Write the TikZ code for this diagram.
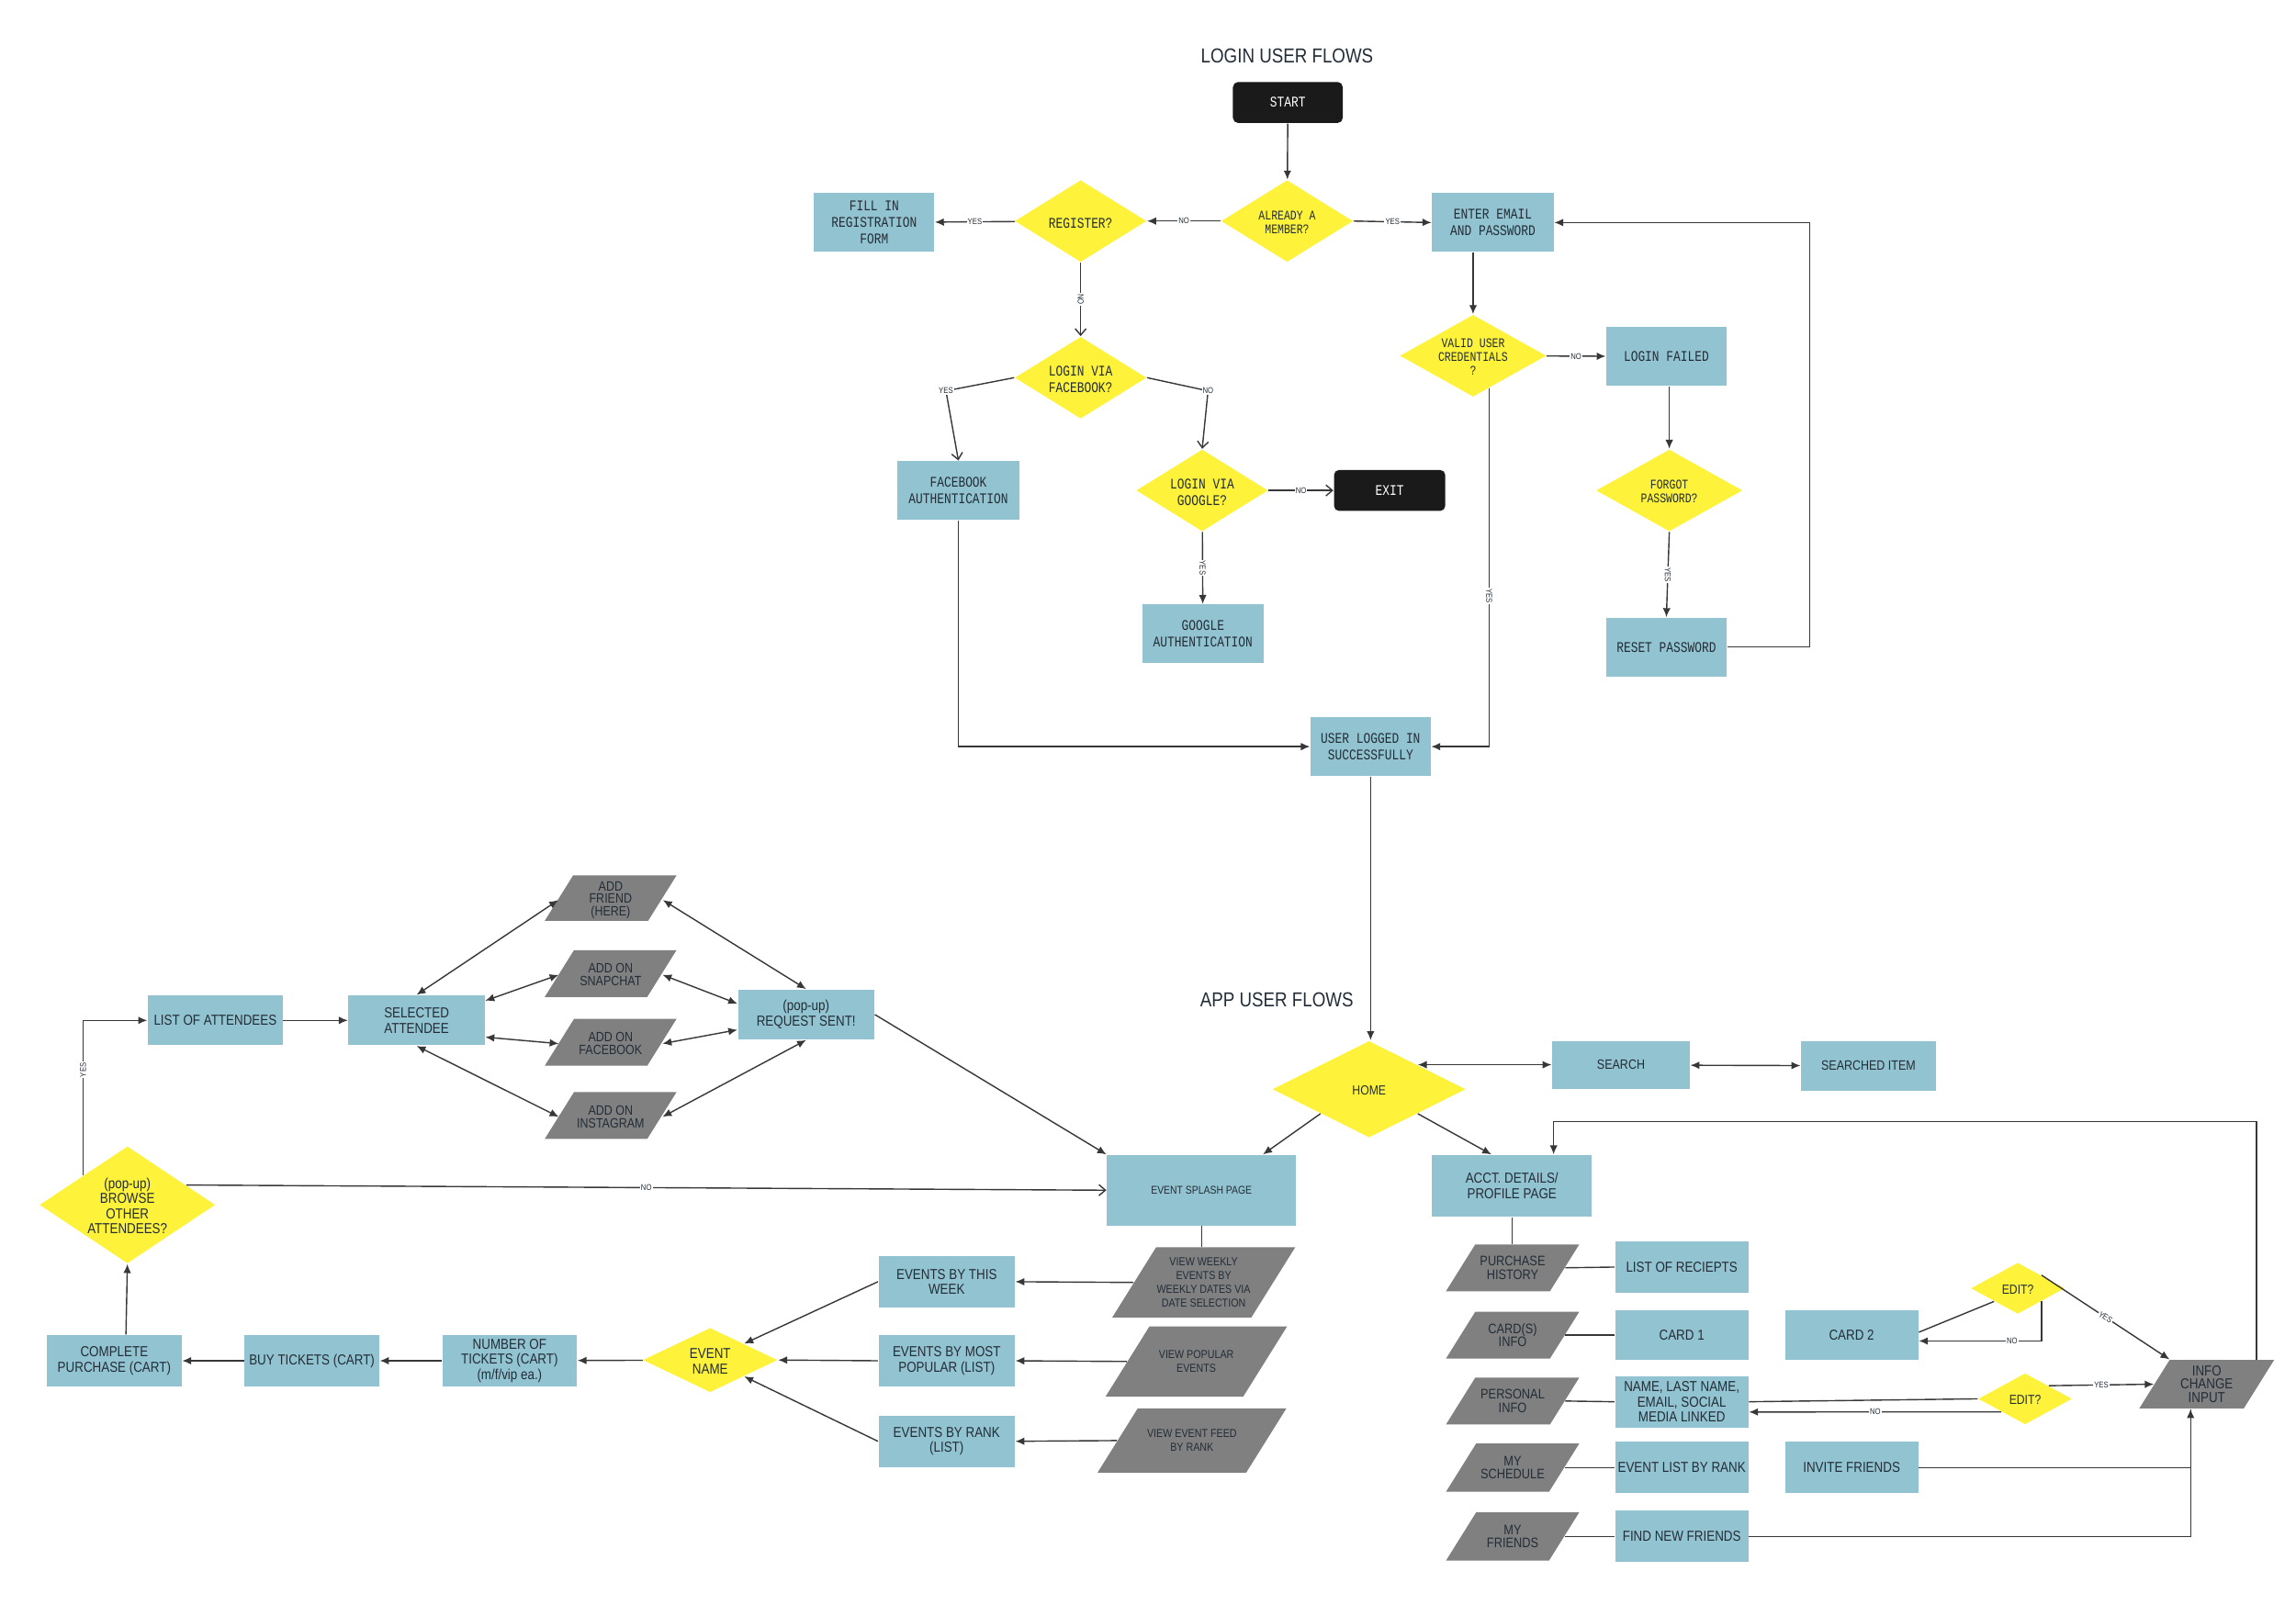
\documentclass[tikz,border=0pt]{standalone}
\usepackage{fontspec}
\usetikzlibrary{shapes.geometric,arrows.meta,calc}
\newfontfamily\monoc[FakeStretch=0.8]{Liberation Mono}
\newfontfamily\sansc[FakeStretch=0.85]{Liberation Sans}
\newcommand\fsz[2]{\fontsize{#1}{#2}\selectfont}
\newcommand\zb[1]{\makebox[0pt]{\raisebox{-0.5em}[0pt][0pt]{\begin{tabular}{@{}c@{}}#1\end{tabular}}}}
% parallelogram: [opts]{name}{x}{y}{w}{h}{text}
\newcommand\mypara[7][]{%
  \pgfmathsetmacro\myparaE{0.625*#6}%
  \pgfmathsetmacro\myparaW{#5-\myparaE}%
  \fill[pgray] (#3-#5/2,#4+#6/2) -- (#3+#5/2-\myparaE,#4+#6/2) -- (#3+#5/2,#4-#6/2) -- (#3-#5/2+\myparaE,#4-#6/2) -- cycle;
  \node[ptext, sz={\myparaW}{#6}, #1] (#2) at (#3,#4) {#7};
}
\definecolor{boxblue}{RGB}{146,195,208}
\definecolor{dyellow}{RGB}{254,242,58}
\definecolor{pgray}{RGB}{128,128,128}
\definecolor{termblack}{RGB}{26,26,26}
\definecolor{txt}{RGB}{35,45,55}
\definecolor{lineg}{RGB}{55,55,55}
\tikzset{
 sz/.style 2 args={minimum width={#1*0.016cm}, minimum height={#2*0.016cm}},
 ttl/.style={font=\sansc\fsz{6.3}{7}, text=txt, inner sep=0pt},
 lbox/.style={rectangle, fill=boxblue, inner sep=0pt, align=center, text=txt, font=\monoc\fsz{4.6}{5.1}},
 abox/.style={rectangle, fill=boxblue, inner sep=0pt, align=center, text=txt, font=\sansc\fsz{4.5}{4.7}},
 term/.style={rectangle, rounded corners=1.6pt, fill=termblack, text=white, inner sep=0pt, font=\monoc\fsz{4.6}{5}},
 ldia/.style={diamond, fill=dyellow, inner sep=0pt, text=txt, font=\monoc\fsz{4.1}{4.3}},
 ldiab/.style={diamond, fill=dyellow, inner sep=0pt, text=txt, font=\monoc\fsz{4.6}{5.1}},
 adia/.style={diamond, fill=dyellow, inner sep=0pt, text=txt, font=\sansc\fsz{4.5}{4.7}},
 ptext/.style={rectangle, inner sep=0pt, align=center, text=txt, font=\sansc\fsz{4.3}{4.2}},
 psmall/.style={font=\sansc\fsz{3.6}{4.3}},
 conn/.style={draw=lineg, line width=0.4pt},
 fa/.style={conn, -{Latex[length=2.8pt,width=2.4pt]}},
 fa2/.style={conn, {Latex[length=2.8pt,width=2.4pt]}-{Latex[length=2.8pt,width=2.4pt]}},
 oa/.style={conn, -{Straight Barb[length=2pt,width=3.4pt]}},
 lbl/.style={font=\sansc\fsz{2.6}{3}, fill=white, inner sep=0.3pt, text=txt},
}
\begin{document}
\begin{tikzpicture}[x=0.016cm, y=-0.016cm]
\useasboundingbox[fill=white] (0,0) rectangle (1568,1096);

% ---------------- LOGIN ----------------
\node[ttl] (t1) at (879,38) {LOGIN USER FLOWS};
\node[term, sz={75}{28}] (start) at (879.5,70) {START};
\node[ldia, sz={90}{56}] (member) at (879,151) {\zb{ALREADY A\\MEMBER?}};
\node[ldiab, sz={90}{56}] (reg) at (738,151) {\zb{REGISTER?}};
\node[lbox, sz={82}{40}] (fillin) at (597,152) {FILL IN\\REGISTRATION\\FORM};
\node[lbox, sz={83}{40}] (enter) at (1019.5,152) {ENTER EMAIL\\AND PASSWORD};
\node[ldia, sz={100}{56}] (valid) at (1006,243) {\zb{VALID USER\\CREDENTIALS\\?}};
\node[lbox, sz={82}{40}] (failed) at (1138,243.5) {LOGIN FAILED};
\node[ldia, sz={100}{56}] (forgot) at (1140,335) {\zb{FORGOT\\PASSWORD?}};
\node[lbox, sz={82}{40}] (reset) at (1138,442) {RESET PASSWORD};
\node[ldiab, sz={90}{56}] (fb) at (738,258) {\zb{LOGIN VIA\\FACEBOOK?}};
\node[lbox, sz={83}{40}] (fbauth) at (654.5,335) {FACEBOOK\\AUTHENTICATION};
\node[ldiab, sz={90}{56}] (google) at (821,335) {\zb{LOGIN VIA\\GOOGLE?}};
\node[term, sz={76}{28}] (exit) at (949,335) {EXIT};
\node[lbox, sz={83}{40}] (gauth) at (821.5,433) {GOOGLE\\AUTHENTICATION};
\node[lbox, sz={82}{40}] (logged) at (936,510) {USER LOGGED IN\\SUCCESSFULLY};

\coordinate (fbbend) at (646,267);
\coordinate (gbend) at (825,267);
\coordinate (loopR) at (1236,152);
\coordinate (vstart) at (1017,265);

\draw[fa] (start) -- (member);
\draw[fa] (member) -- node[lbl]{NO} (reg);
\draw[fa] (member.east) -- node[lbl]{YES} (enter.west);
\draw[fa] (reg) -- node[lbl]{YES} (fillin);
\draw[oa] (reg) -- node[lbl, rotate=-90]{NO} (fb);
\draw[oa] (fb.west) -- (fbbend) node[lbl]{YES} -- (fbauth.north);
\draw[oa] (fb.east) -- (gbend) node[lbl]{NO} -- (google.north);
\draw[oa] (google) -- node[lbl]{NO} (exit);
\draw[fa] (google) -- node[lbl, rotate=-90]{YES} (gauth);
\draw[fa] (enter.south -| valid.north) -- (valid.north);
\draw[fa] (valid) -- node[lbl]{NO} (failed);
\draw[fa] (failed.south -| forgot.north) -- (forgot.north);
\draw[fa] (forgot.south) -- node[lbl, rotate=-90]{YES} (reset.north);
\draw[fa] (reset.east) -| (loopR) -- (enter.east);
\draw[fa] (vstart) |- node[lbl, rotate=-90, pos=0.29]{YES} (logged.east);
\draw[fa] (fbauth.south) |- (logged.west);

% ---------------- APP ----------------
\node[ttl] (t2) at (872,683) {APP USER FLOWS};
\node[adia, sz={132}{66}, font=\sansc\fsz{4.1}{4.5}] (home) at (935,744) {\zb{HOME}};
\node[abox, sz={94}{33}, font=\sansc\fsz{4.2}{4.7}] (search) at (1107,727.5) {SEARCH};
\node[abox, sz={92}{34}, font=\sansc\fsz{4.2}{4.7}] (sitem) at (1276,728) {SEARCHED ITEM};
\node[abox, sz={129}{48}, font=\sansc\fsz{3.5}{4}] (splash) at (820.5,813) {EVENT SPLASH PAGE};
\node[abox, sz={109}{42}] (acct) at (1032.5,810) {ACCT. DETAILS/\\PROFILE PAGE};

\draw[fa] (logged.south) -- (logged.south |- home.north);
\draw[fa2] (home.north east) -- (search.west |- home.north east);
\draw[fa2] (search) -- (sitem);
\draw[fa] (home.south west) -- ($(splash.north)+(42,0)$);
\draw[fa] (home.south east) -- ($(acct.north)+(-14,0)$);

% attendees
\node[abox, sz={92}{34}] (list) at (147,697) {LIST OF ATTENDEES};
\node[abox, sz={93}{34}] (sel) at (284.5,697) {SELECTED\\ATTENDEE};
\node[abox, sz={93}{34}] (req) at (550.5,693) {(pop-up)\\REQUEST SENT!};
\mypara[font=\sansc\fsz{4.2}{3.9}, yshift=-0.6pt]{addfr}{417}{613.5}{90}{31}{ADD\\FRIEND\\(HERE)}
\mypara[font=\sansc\fsz{4.2}{4.1}, yshift=-0.4pt]{addsn}{417}{665}{90}{32}{ADD ON\\SNAPCHAT}
\mypara[font=\sansc\fsz{4.2}{4.1}, yshift=-0.4pt]{addfb}{417}{712}{90}{32}{ADD ON\\FACEBOOK}
\mypara[font=\sansc\fsz{4.2}{4.1}, yshift=-0.4pt]{addig}{417}{762}{90}{32}{ADD ON\\INSTAGRAM}
\node[adia, sz={120}{80}] (browse) at (87,823) {\zb{(pop-up)\\BROWSE\\OTHER\\ATTENDEES?}};

\draw[fa] (list) -- (sel);
\draw[fa2] (sel.north) -- (addfr.west);
\draw[fa2] ($(sel.north east)+(0,4)$) -- (addsn.west);
\draw[fa2] ($(sel.south east)+(0,-6)$) -- (addfb.west);
\draw[fa2] (sel.south) -- (addig.west);
\draw[fa2] (addfr.east) -- (req.north);
\draw[fa2] (addsn.east) -- ($(req.north west)+(0,10)$);
\draw[fa2] (addfb.east) -- ($(req.south west)+(0,-7)$);
\draw[fa2] (addig.east) -- (req.south);
\draw[fa] (req.east) -- (splash.north west);
\draw[fa] (browse.north west) |- node[lbl, rotate=90, pos=0.34]{YES} (list.west);
\draw[oa] ($(browse.north east)!0.33!(browse.east)$) -- node[lbl]{NO} (splash.west);

% events
\mypara[psmall]{vweek}{822}{876}{125}{48}{VIEW WEEKLY\\EVENTS BY\\WEEKLY DATES VIA\\DATE SELECTION}
\mypara[psmall]{vpop}{817}{930}{124}{48}{VIEW POPULAR\\EVENTS}
\mypara[psmall]{vrank}{814}{984}{129}{44}{VIEW EVENT FEED\\BY RANK}
\node[abox, sz={93}{35}] (ethis) at (646.5,875.5) {EVENTS BY THIS\\WEEK};
\node[abox, sz={93}{35}] (epop) at (646.5,929.5) {EVENTS BY MOST\\POPULAR (LIST)};
\node[abox, sz={93}{35}] (erank) at (646.5,984.5) {EVENTS BY RANK\\(LIST)};
\node[adia, sz={92}{44}] (ename) at (485,929) {\zb{EVENT\\NAME}};
\node[abox, sz={92}{35}] (ntick) at (348,929.5) {NUMBER OF\\TICKETS (CART)\\(m/f/vip ea.)};
\node[abox, sz={92}{35}] (buy) at (213,929.5) {BUY TICKETS (CART)};
\node[abox, sz={92}{35}] (comp) at (78,929.5) {COMPLETE\\PURCHASE (CART)};

\draw[conn] (splash.south) -- (splash.south |- vweek.north);
\draw[fa] (vweek.west) -- (ethis.east);
\draw[fa] (vpop.west) -- (epop.east);
\draw[fa] (vrank.west) -- (erank.east);
\draw[fa] (ethis.west) -- (ename.north east);
\draw[fa] (epop.west) -- (ename.east);
\draw[fa] (erank.west) -- (ename.south east);
\draw[fa] (ename) -- (ntick);
\draw[fa] (ntick) -- (buy);
\draw[fa] (buy) -- (comp);
\draw[fa] ($(comp.north)+(8,0)$) -- (browse.south);

% account
\mypara{ph}{1033}{866}{91}{32}{PURCHASE\\HISTORY}
\mypara{ci}{1033}{912}{91}{32}{CARD(S)\\INFO}
\mypara{pi}{1033}{957}{91}{32}{PERSONAL\\INFO}
\mypara{ms}{1033}{1002.5}{91}{33}{MY\\SCHEDULE}
\mypara{mf}{1033}{1049.5}{91}{33}{MY\\FRIENDS}
\node[abox, sz={91}{35}] (lr) at (1148.5,865.5) {LIST OF RECIEPTS};
\node[abox, sz={91}{34}] (c1) at (1148.5,912) {CARD 1};
\node[abox, sz={91}{35}] (nm) at (1148.5,957.5) {NAME, LAST NAME,\\EMAIL, SOCIAL\\MEDIA LINKED};
\node[abox, sz={91}{35}] (el) at (1148.5,1002.5) {EVENT LIST BY RANK};
\node[abox, sz={91}{35}] (fnf) at (1148.5,1049.5) {FIND NEW FRIENDS};
\node[abox, sz={91}{34}] (c2) at (1264.5,912) {CARD 2};
\node[abox, sz={91}{35}] (inv) at (1264.5,1002.5) {INVITE FRIENDS};
\node[adia, sz={64}{35}, font=\sansc\fsz{4.1}{4.5}] (edit1) at (1378,880) {\zb{EDIT?}};
\node[adia, sz={64}{35}, font=\sansc\fsz{4.1}{4.5}] (edit2) at (1383,955.5) {\zb{EDIT?}};
\mypara[font=\sansc\fsz{4.5}{4.2}]{info}{1507}{945.5}{92}{33}{INFO\\CHANGE\\INPUT}

\coordinate (infoTop) at ($(info.north)+(34,0)$);
\coordinate (infoTL) at ($(info.north)+(-25.4,0)$);
\coordinate (loopTop) at (1541,766);
\coordinate (acctIn) at ($(acct.north)+(28.5,0)$);
\coordinate (infoIn) at ($(info.south)+(-11,0)$);

\draw[fa] (infoTop) -- (loopTop) -| (acctIn);
\draw[conn] (acct.south) -- (acct.south |- ph.north);
\draw[conn] (ph.east) -- (lr.west);
\draw[conn] (ci.east) -- (c1.west);
\draw[conn] (pi.east) -- (nm.west);
\draw[conn] (ms.east) -- (el.west);
\draw[conn] (mf.east) -- (fnf.west);
\draw[conn] ($(c2.east)+(0,-2)$) -- (edit1.south west);
\draw[fa] (edit1.south east) |- node[lbl, pos=0.62]{NO} ($(c2.east)+(0,4)$);
\draw[fa] (edit1.north east) -- node[lbl, sloped]{YES} (infoTL);
\draw[conn] (nm.east) -- (edit2.west);
\draw[fa] (edit2.south west) -- node[lbl]{NO} ($(nm.east)+(0,7)$);
\draw[fa] (edit2.north east) -- node[lbl]{YES} (info.west);
\draw[conn] (fnf.east) -| (infoIn);
\draw[fa] (inv.east) -| (infoIn);
\end{tikzpicture}
\end{document}
